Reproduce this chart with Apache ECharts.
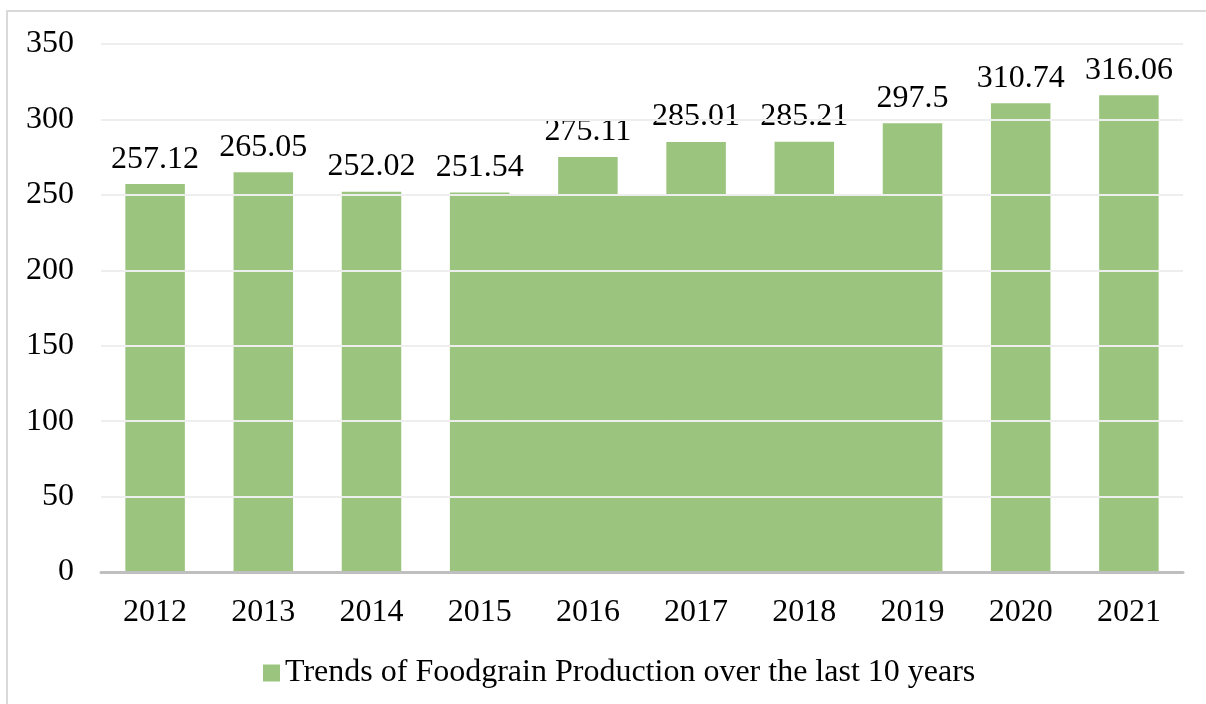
<!DOCTYPE html>
<html>
<head>
<meta charset="utf-8">
<script src="https://cdn.jsdelivr.net/npm/echarts@6/dist/echarts.min.js"></script>
<style>
  html, body { margin: 0; padding: 0; background: #fff; }
  #chart { width: 1206px; height: 704px; }
</style>
</head>
<body>
<div id="chart"></div>
<script>
// años y producción (millones de toneladas)
const years = ['2012', '2013', '2014', '2015', '2016', '2017', '2018', '2019', '2020', '2021'];
const production = [257.12, 265.05, 252.02, 251.54, 275.11, 285.01, 285.21, 297.5, 310.74, 316.06];
const yTicks = [0, 50, 100, 150, 200, 250, 300, 350];

// bloque verde que tapa 2015-2019 hasta 250 en la imagen original
const blockStart = '2015';
const blockEnd = '2019';
const blockTop = 250;

const seriesName = 'Trends of Foodgrain Production over the last 10 years';
const green = '#9bc57e';
const fontFam = '"Liberation Serif", "Times New Roman", serif';

const chart = echarts.init(document.getElementById('chart'));

const option = {
  backgroundColor: '#ffffff',
  animation: false,
  graphic: [{
    type: 'rect',
    z: -10,
    shape: { x: 7, y: 11, width: 1240, height: 740 },
    style: { fill: 'none', stroke: '#d9d9d9', lineWidth: 2 }
  }],
  grid: { left: 101, right: 23, top: 44, bottom: 132 },
  legend: {
    bottom: 10,
    left: 258,
    icon: 'rect',
    itemWidth: 17,
    itemHeight: 17,
    itemGap: 10,
    data: [seriesName],
    textStyle: { fontFamily: fontFam, fontSize: 32, color: '#000' }
  },
  xAxis: {
    type: 'category',
    data: years,
    z: 5,
    axisLine: { lineStyle: { color: '#bfbfbf', width: 3 } },
    axisTick: { show: false },
    axisLabel: { fontFamily: fontFam, fontSize: 32, color: '#000', margin: 25 }
  },
  yAxis: {
    type: 'value',
    min: yTicks[0],
    max: yTicks[yTicks.length - 1],
    interval: 50,
    z: 4,
    axisLine: { show: false },
    axisTick: { show: false },
    splitLine: { lineStyle: { color: '#eeeeee', width: 2 } },
    axisLabel: { fontFamily: fontFam, fontSize: 32, color: '#000', margin: 27 }
  },
  series: [
    {
      name: seriesName,
      type: 'bar',
      data: production,
      barWidth: '55%',
      itemStyle: { color: green },
      label: {
        show: true,
        position: 'top',
        distance: 9,
        fontFamily: fontFam,
        fontSize: 32,
        color: '#000'
      }
    },
    {
      name: 'block',
      type: 'custom',
      data: [[blockStart, blockEnd, blockTop]],
      encode: { x: [0, 1], y: 2 },
      renderItem: function (params, api) {
        const band = api.size([1, 0])[0];
        const half = band * 0.55 / 2;
        const p0 = api.coord([api.value(0), 0]);
        const p1 = api.coord([api.value(1), api.value(2)]);
        return {
          type: 'rect',
          shape: { x: p0[0] - half, y: p1[1], width: p1[0] - p0[0] + 2 * half, height: p0[1] - p1[1] },
          style: { fill: green }
        };
      }
    }
  ]
};

chart.setOption(option);
</script>
</body>
</html>
